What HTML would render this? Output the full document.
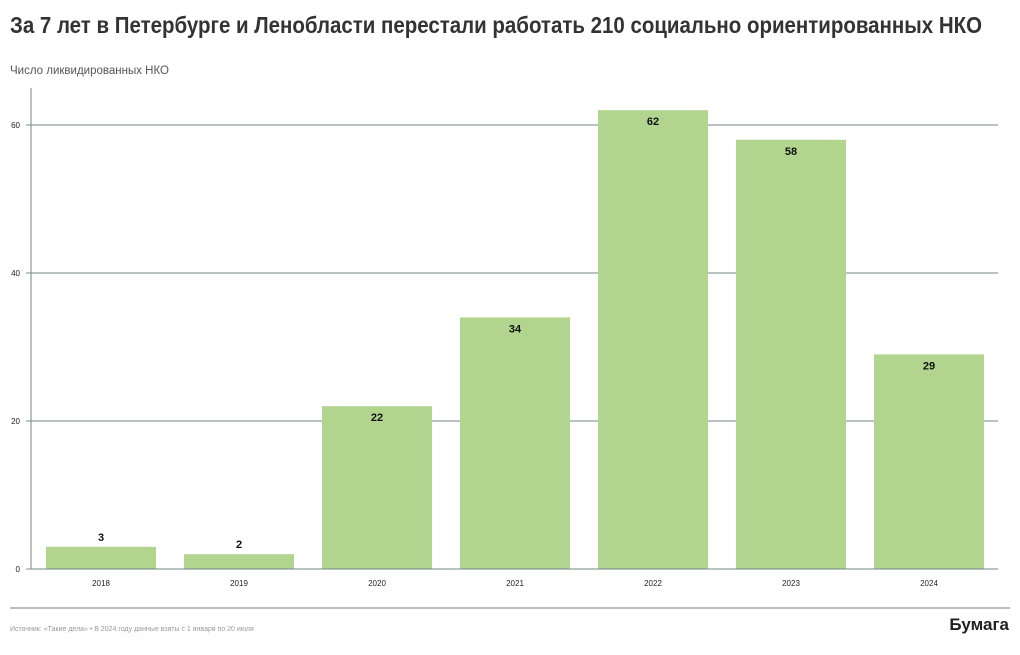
<!DOCTYPE html>
<html><head><meta charset="utf-8"><style>
body{margin:0;background:#fff;width:1020px;height:650px;overflow:hidden;font-family:"Liberation Sans",sans-serif}
</style></head><body>
<svg id="c" width="1020" height="650" xmlns="http://www.w3.org/2000/svg">
<text x="10" y="33" font-size="23" font-weight="bold" fill="#333" textLength="972" lengthAdjust="spacingAndGlyphs">За 7 лет в Петербурге и Ленобласти перестали работать 210 социально ориентированных НКО</text>
<text x="10" y="74" font-size="11.5" fill="#555">Число ликвидированных НКО</text>
<line x1="10" y1="608" x2="1010" y2="608" stroke="#8a9a9a" stroke-width="1.2"/>
<text x="10" y="631" font-size="7" fill="#999">Источник: «Такие дела» • В 2024 году данные взяты с 1 января по 20 июля</text>
<text x="1009" y="630" font-size="17" font-weight="bold" fill="#222" text-anchor="end">Бумага</text>
<g id="plot"></g>
</svg>
<script>
const categories=["2018","2019","2020","2021","2022","2023","2024"];
const values=[3,2,22,34,62,58,29];
const yTicks=[0,20,40,60];
const x0=31,x1=998,yTop=88,yBase=569;
function yScale(v){return yBase-v*(444/60);}
function xBand(i){return 46+i*138;}
const bw=110;
const g=document.getElementById('plot');
const NS='http://www.w3.org/2000/svg';
function mk(t,a){const e=document.createElementNS(NS,t);for(const k in a)e.setAttribute(k,a[k]);g.appendChild(e);return e;}
yTicks.forEach(v=>{
  const y=yScale(v);
  if(v>0){const l=mk('line',{x1:x0,x2:x1,y1:y,y2:y,stroke:'#6f8686','stroke-width':0.9});
  
  }
  const tk=mk('line',{x1:26,x2:x0,y1:y,y2:y,stroke:'#6f8686','stroke-width':0.9});
  
  
  const t=mk('text',{x:20,y:y+3,'font-size':8,'text-anchor':'end',fill:'#222'});
  t.textContent=v;
  
  
});
values.forEach((v,i)=>{
  const x=xBand(i),y=yScale(v);
  const r=mk('rect',{x:x,y:y,width:bw,height:yBase-y,fill:'#b1d48e'});
  
  
  const big=v>10;
  const t=mk('text',{x:x+bw/2,y:big?y+15:y-6,'font-size':11,'font-weight':'bold','text-anchor':'middle',fill:'#111'});
  t.textContent=v;
  
  
  const c=mk('text',{x:x+bw/2,y:586,'font-size':8,'text-anchor':'middle',fill:'#222'});
  c.textContent=categories[i];
  
  
});
const ya=mk('line',{x1:x0,x2:x0,y1:yTop,y2:yBase,stroke:'#6f8686','stroke-width':1});


const xa=mk('line',{x1:x0,x2:x1,y1:yBase,y2:yBase,stroke:'#6f8686','stroke-width':1});


</script>
</body></html>
